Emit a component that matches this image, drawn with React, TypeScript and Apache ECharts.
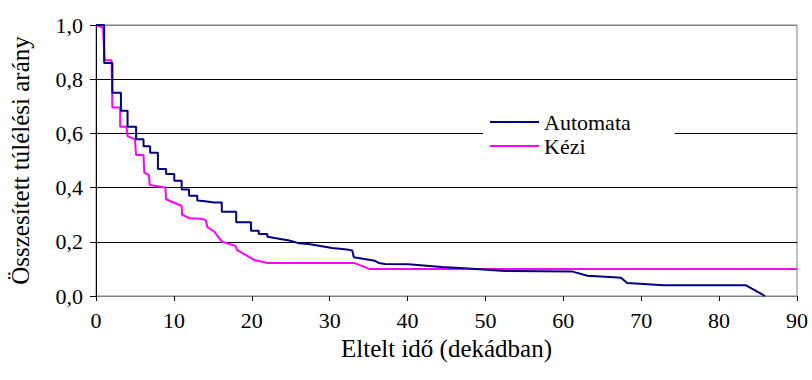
import React, { useEffect, useRef } from "react";
import * as echarts from "echarts";

const seriesNames = ["Automata", "Kézi"];

const automataTime = [0, 1.05, 1.05, 2.1, 2.1, 3.2, 3.2, 4.05, 4.05, 5.15, 5.15, 6.1, 6.1, 6.95, 6.95, 7.95, 7.95, 9.0, 9.0, 10.05, 10.05, 11.0, 11.0, 11.95, 11.95, 13.0, 13.0, 14.0, 15.2, 16.15, 16.15, 18.0, 18.0, 19.9, 19.9, 20.9, 20.9, 22.0, 22.0, 24.8, 26.0, 27.3, 30.3, 32.2, 32.9, 33.1, 35.8, 36.3, 37.1, 40.1, 44.4, 47.3, 52.5, 61.2, 63.1, 66.5, 67.4, 68.2, 72.9, 83.4, 85.9];
const automataValue = [1.0, 1.0, 0.86, 0.86, 0.75, 0.75, 0.684, 0.684, 0.625, 0.625, 0.578, 0.578, 0.553, 0.553, 0.529, 0.529, 0.469, 0.469, 0.45, 0.45, 0.425, 0.425, 0.393, 0.393, 0.37, 0.37, 0.352, 0.35, 0.345, 0.345, 0.311, 0.311, 0.272, 0.272, 0.241, 0.241, 0.229, 0.229, 0.219, 0.205, 0.195, 0.192, 0.177, 0.172, 0.168, 0.143, 0.13, 0.122, 0.118, 0.117, 0.107, 0.102, 0.092, 0.09, 0.075, 0.069, 0.067, 0.048, 0.04, 0.04, 0.0];

const keziTime = [0, 0.9, 1.1, 2.0, 2.1, 3.1, 3.1, 3.9, 4.05, 5.0, 5.15, 6.1, 6.2, 6.8, 6.9, 8.9, 9.0, 11.0, 11.05, 12.0, 13.5, 14.1, 14.3, 15.2, 16.2, 17.9, 18.1, 20.3, 22.0, 33.1, 35.1, 90];
const keziValue = [1.0, 0.99, 0.87, 0.87, 0.696, 0.696, 0.625, 0.625, 0.59, 0.578, 0.52, 0.52, 0.455, 0.446, 0.41, 0.4, 0.357, 0.332, 0.3, 0.287, 0.285, 0.28, 0.254, 0.237, 0.2, 0.185, 0.17, 0.133, 0.122, 0.122, 0.1, 0.1];

const yTicks = [0, 0.2, 0.4, 0.6, 0.8, 1.0];
const xTicks = [0, 10, 20, 30, 40, 50, 60, 70, 80, 90];

const xTitle = "Eltelt idő (dekádban)";
const yTitle = "Összesített túlélési arány";

const FONT = "Liberation Serif";
const FS = 22;
const TITLE_FS = 25;

export default function App() {
  const ref = useRef<HTMLDivElement>(null);
  useEffect(() => {
    if (!ref.current) return;
    const chart = echarts.init(ref.current, null, { renderer: "svg" });
    const pair = (t: number[], v: number[]) => t.map((x, i) => [x, v[i]]);
    chart.setOption({
      animation: false,
      backgroundColor: "#fff",
      textStyle: { fontFamily: FONT, fontSize: FS },
      grid: {
        left: 93,
        right: 15,
        top: 25,
        bottom: 84,
        show: true,
        borderColor: "#808080",
        borderWidth: 1,
        backgroundColor: "transparent",
      },
      legend: {
        orient: "vertical",
        left: 483,
        top: 108,
        padding: [3, 44, 5, 7],
        backgroundColor: "#fff",
        itemWidth: 49,
        itemHeight: 2,
        itemGap: 2,
        icon: "rect",
        data: seriesNames,
        textStyle: { fontFamily: FONT, fontSize: FS, color: "#000", lineHeight: 22 },
      },
      xAxis: {
        type: "value",
        min: xTicks[0],
        max: xTicks[xTicks.length - 1],
        interval: 10,
        name: xTitle,
        nameLocation: "middle",
        nameGap: 37,
        nameTextStyle: { fontFamily: FONT, fontSize: TITLE_FS, color: "#000" },
        axisLine: { onZero: false, lineStyle: { color: "#808080", width: 1 } },
        axisTick: { show: true, length: 5, inside: false, lineStyle: { color: "#000" } },
        axisLabel: { fontFamily: FONT, fontSize: FS, color: "#000", margin: 13 },
        splitLine: { show: false },
      },
      yAxis: {
        type: "value",
        min: yTicks[0],
        max: yTicks[yTicks.length - 1],
        interval: 0.2,
        name: yTitle,
        nameLocation: "middle",
        nameGap: 63,
        nameRotate: 90,
        nameTextStyle: { fontFamily: FONT, fontSize: TITLE_FS, color: "#000" },
        axisLine: { show: true, lineStyle: { color: "#000", width: 1 } },
        axisTick: { show: true, length: 6, lineStyle: { color: "#000" } },
        axisLabel: {
          fontFamily: FONT,
          fontSize: FS,
          color: "#000",
          margin: 13,
          formatter: (v: number) => v.toFixed(1).replace(".", ","),
        },
        splitLine: {
          show: true,
          lineStyle: { color: ["#808080", "#000", "#000", "#000", "#000", "#808080"], width: 1 },
        },
      },
      series: [
        {
          name: seriesNames[0],
          type: "line",
          data: pair(automataTime, automataValue),
          showSymbol: false,
          symbol: "none",
          lineStyle: { color: "#000080", width: 2 },
          itemStyle: { color: "#000080" },
          z: 3,
        },
        {
          name: seriesNames[1],
          type: "line",
          data: pair(keziTime, keziValue),
          showSymbol: false,
          symbol: "none",
          lineStyle: { color: "#FF00FF", width: 2 },
          itemStyle: { color: "#FF00FF" },
          z: 2,
        },
      ],
    });
    return () => chart.dispose();
  }, []);
  return (
    <div
      ref={ref}
      style={{ position: "absolute", left: 0, top: 0, width: 812, height: 380 }}
    />
  );
}
